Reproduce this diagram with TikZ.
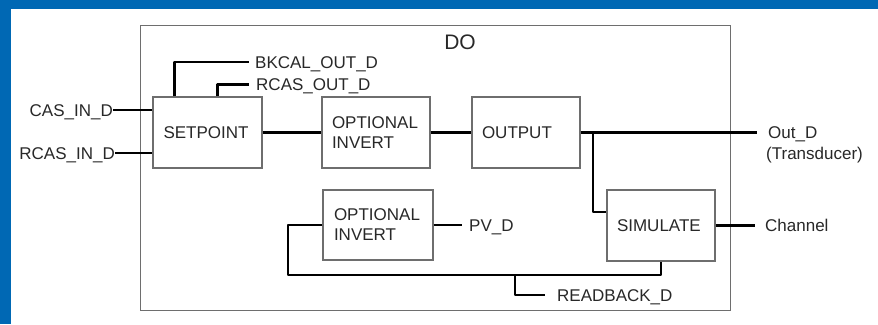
\documentclass[tikz,border=0pt]{standalone}
\usepackage{fontspec}
\setmainfont{Liberation Sans}
\definecolor{bgblue}{RGB}{0,104,180}
\definecolor{boxgray}{RGB}{110,110,110}
\definecolor{txt}{RGB}{40,40,40}
\begin{document}
\begin{tikzpicture}[x=1pt,y=-1pt,
  blk/.style={draw=boxgray, line width=1.3pt, fill=white, minimum height=71pt, minimum width=108pt,
    inner xsep=10pt, inner ysep=0pt, text width=88pt, align=left, text=txt,
    font=\fontsize{17}{20}\selectfont},
  lbl/.style={inner sep=0pt, text=txt, font=\fontsize{17}{20}\selectfont, text height=12.2pt, text depth=0pt},
  conn/.style={line width=2.6pt, black, line join=round},
  doframe/.style={draw=boxgray, line width=1.3pt}]
\useasboundingbox (0,0) rectangle (878,324);
\fill[white] (0,0) rectangle (878,324);
\fill[bgblue] (0,0) rectangle (878,9);
\fill[bgblue] (0,0) rectangle (11,324);
\node[doframe, minimum width=590pt, minimum height=285pt, inner sep=0pt, anchor=north west] (do) at (140,25) {};
\node[font=\fontsize{21}{24}\selectfont, text=txt, inner sep=0pt] (dolbl) at (460,42.5) {DO};
% blocks
\node[blk, minimum width=109pt] (sp) at (207.5,132.5) {SETPOINT};
\node[blk] (inv1) at (376,132.5) {OPTIONAL\\INVERT};
\node[blk] (outb) at (526,132.5) {OUTPUT};
\node[blk, minimum width=110pt, minimum height=70pt] (inv2) at (378,225) {OPTIONAL\\INVERT};
\node[blk] (sim) at (661,225.5) {SIMULATE};
% labels
\node[lbl, anchor=east] (casin) at (113,110) {CAS\_IN\_D};
\node[lbl, anchor=east] (rcasin) at (115,153) {RCAS\_IN\_D};
\node[lbl, anchor=west, inner xsep=6pt] (bkcal) at (249,62) {BKCAL\_OUT\_D};
\node[lbl, anchor=west, inner xsep=7pt] (rcasout) at (249,84.5) {RCAS\_OUT\_D};
\node[lbl, anchor=west, inner xsep=11pt] (outd) at (757,132.5) {Out\_D};
\node[lbl, anchor=west] (trans) at (766,153.5) {(Transducer)};
\node[lbl, anchor=west, inner xsep=7pt] (pvd) at (462,225) {PV\_D};
\node[lbl, anchor=west, inner xsep=10pt] (chan) at (755,225.5) {Channel};
\node[lbl, anchor=west, inner xsep=12pt] (rbk) at (545,295) {READBACK\_D};
% connectors
\draw[conn] (casin.east) -- (casin.east -| sp.west);
\draw[conn] (rcasin.east) -- (rcasin.east -| sp.west);
\draw[conn] ([xshift=22pt]sp.north west) |- (bkcal.west);
\draw[conn] ([xshift=65pt]sp.north west) |- (rcasout.west);
\draw[conn] (sp.east) -- (inv1.west);
\draw[conn] (inv1.east) -- (outb.west);
\draw[conn] (outb.east) -- (outd.west);
\coordinate (br) at (593,132.5);
\draw[conn] (br) |- ([yshift=13.5pt]sim.west);
\draw[conn] (sim.east) -- (chan.west);
\draw[conn] (inv2.east) -- (pvd.west);
\coordinate (lb) at (288,275);
\draw[conn] (inv2.west) -| (lb) -| (sim.south);
\coordinate (rb) at (515,275);
\draw[conn] (rb) |- (rbk.west);
\end{tikzpicture}
\end{document}
